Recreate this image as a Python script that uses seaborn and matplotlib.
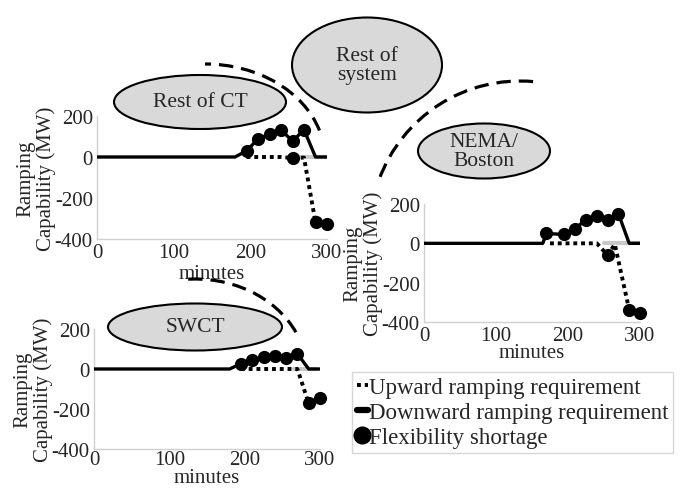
import matplotlib.pyplot as plt
import seaborn as sns
from matplotlib.patches import Ellipse, Arc
from matplotlib.lines import Line2D

sns.set_style("white")
plt.rcParams['font.family'] = ['Liberation Serif', 'DejaVu Serif']
plt.rcParams['axes.unicode_minus'] = False

# Rest of CT
ct_down_t = [0, 180, 195, 210, 225, 240, 255, 270, 285, 300]
ct_down_mw = [0, 0, 30, 88, 112, 133, 77, 133, 0, 0]
ct_up_t = [195, 210, 225, 240, 255, 270, 285, 300]
ct_up_mw = [0, 0, 0, 0, -5, -3, -319, -327]
ct_short_t = [195, 210, 225, 240, 255, 270, 255, 285, 300]
ct_short_mw = [30, 88, 112, 133, 77, 133, -5, -319, -327]
ct_gray_t = [255, 300]

# NEMA/Boston
nema_down_t = [0, 165, 170, 195, 210, 225, 240, 255, 270, 285, 300]
nema_down_mw = [0, 0, 50, 45, 75, 121, 138, 117, 151, 0, 0]
nema_up_t = [175, 240, 255, 265, 285, 300]
nema_up_mw = [0, 0, -60, -5, -338, -355]
nema_short_t = [170, 195, 210, 225, 240, 255, 270, 255, 285, 300]
nema_short_mw = [50, 45, 75, 121, 138, 117, 151, -60, -338, -355]
nema_gray_t = [250, 300]

# SWCT
sw_down_t = [0, 180, 195, 210, 225, 240, 255, 270, 285, 300]
sw_down_mw = [0, 0, 26, 43, 59, 63, 54, 76, 0, 0]
sw_up_t = [195, 210, 225, 240, 255, 270, 285, 300]
sw_up_mw = [0, 0, 0, 0, 0, 0, -172, -147]
sw_short_t = [195, 210, 225, 240, 255, 270, 285, 300]
sw_short_mw = [26, 43, 59, 63, 54, 76, -172, -147]
sw_gray_t = [265, 295]

x_ticks = [0, 100, 200, 300]
y_ticks = [-400, -200, 0, 200]

legend_labels = ["Upward ramping requirement",
                 "Downward ramping requirement",
                 "Flexibility shortage"]

W, H = 684, 489
fig = plt.figure(figsize=(W / 100, H / 100), dpi=100)


def px_axes(x0, x1, y_top, y_bot):
    # axes box from pixel positions of x=0/300 and y=200/-400
    return fig.add_axes([x0 / W, 1 - y_bot / H, (x1 - x0) / W, (y_bot - y_top) / H])


# axes, data..., xtick pad, xlabel pad
panels = [
    (px_axes(97, 327, 117, 240), ct_down_t, ct_down_mw, ct_up_t, ct_up_mw,
     ct_short_t, ct_short_mw, ct_gray_t, 3, 1),
    (px_axes(424, 640, 205, 323), nema_down_t, nema_down_mw, nema_up_t, nema_up_mw,
     nema_short_t, nema_short_mw, nema_gray_t, 3, -1.5),
    (px_axes(94, 320, 330, 450), sw_down_t, sw_down_mw, sw_up_t, sw_up_mw,
     sw_short_t, sw_short_mw, sw_gray_t, 0.5, -0.5),
]

for ax, dt, dm, ut, um, st, sm, gt, tpad, xpad in panels:
    sns.lineplot(x=gt, y=[0] * len(gt), ax=ax, color='#c8c8c8', lw=3, zorder=1)
    sns.lineplot(x=dt, y=dm, ax=ax, color='black', lw=2.4, zorder=3)
    sns.lineplot(x=ut, y=um, ax=ax, color='black', lw=2.8,
                 linestyle=(0, (1, 1)), zorder=2)
    sns.scatterplot(x=st, y=sm, ax=ax, color='black', s=90, linewidth=0,
                    zorder=4, clip_on=False)
    ax.set_xlim(0, 300)
    ax.set_ylim(-400, 200)
    ax.set_xticks(x_ticks)
    ax.set_yticks(y_ticks)
    ax.tick_params(length=0, labelsize=15)
    ax.tick_params(axis='x', pad=tpad)
    ax.tick_params(axis='y', pad=3)
    for s in ['top', 'right']:
        ax.spines[s].set_visible(False)
    for s in ['left', 'bottom']:
        ax.spines[s].set_color('#d0d0d0')
        ax.spines[s].set_linewidth(1)
    ax.set_xlabel("minutes", fontsize=15, labelpad=xpad)
    ax.set_ylabel("Ramping\nCapability (MW)", fontsize=15, labelpad=-1,
                  linespacing=1.05)
    ax.patch.set_alpha(0)

# overlay for region bubbles and dashed boundaries (pixel coords)
ov = fig.add_axes([0, 0, 1, 1], zorder=10)
ov.set_xlim(0, W)
ov.set_ylim(0, H)
ov.axis('off')
ov.patch.set_alpha(0)

bubbles = [
    ((200, 103), 172, 54, "Rest of CT"),
    ((367, 66), 150, 95, "Rest of\nsystem"),
    ((484, 152), 132, 55, "NEMA/\nBoston"),
    ((195, 328), 174, 47, "SWCT"),
]
for (cx, cy), w, h, txt in bubbles:
    ov.add_patch(Ellipse((cx, H - cy), w, h, facecolor='#d9d9d9',
                         edgecolor='black', lw=1.5))
    ov.text(cx, H - cy, txt, ha='center', va='center', fontsize=15.5,
            linespacing=1.0)

arcs = [
    ((205, 160), 240, 190, 14, 90),
    ((520, 232), 300, 300, 85, 160),
    ((195, 374), 224, 188, 22, 97),
]
for (cx, cy), w, h, t1, t2 in arcs:
    ov.add_patch(Arc((cx, H - cy), w, h, theta1=t1, theta2=t2, color='black',
                     lw=2.3, linestyle=(0, (4.5, 2.5))))

handles = [
    Line2D([], [], color='black', lw=2.8, linestyle=(0, (1, 1))),
    Line2D([], [], color='black', lw=4.5),
    Line2D([], [], color='black', marker='o', linestyle='', markersize=12),
]
leg = fig.legend(handles, legend_labels, loc='upper left',
                 bbox_to_anchor=(352 / W, 1 - 373 / H), fontsize=16.5,
                 frameon=True, fancybox=False, edgecolor='#cccccc',
                 handlelength=0.5, handletextpad=0.05, labelspacing=0.18,
                 borderpad=0.2, borderaxespad=0)
leg.get_frame().set_linewidth(1)

fig.savefig("out.png", dpi=100)
